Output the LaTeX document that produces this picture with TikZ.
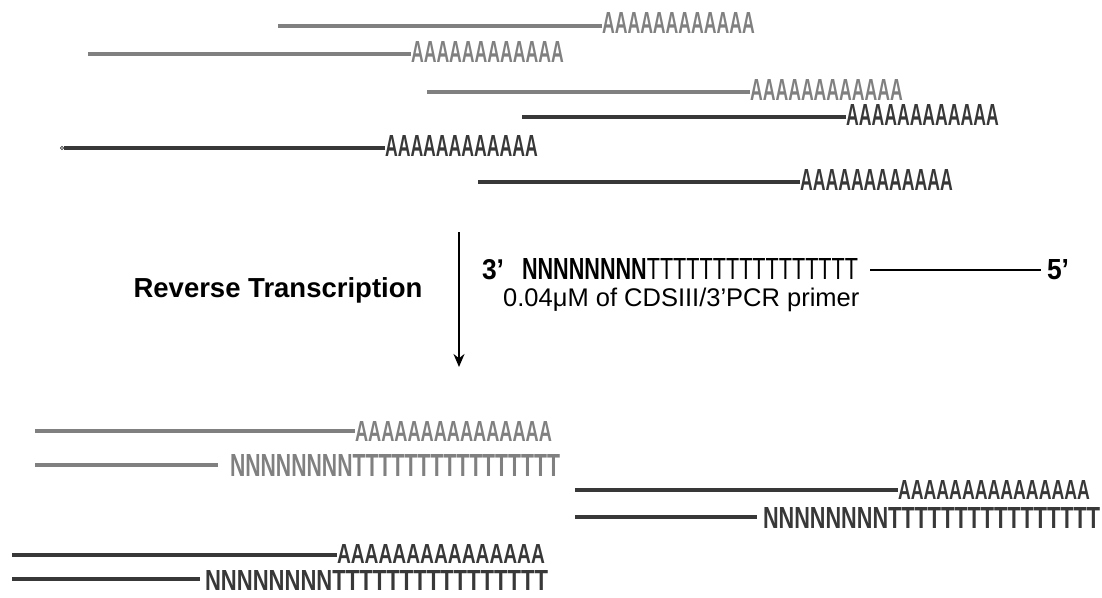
\documentclass[tikz,border=0pt]{standalone}
\usepackage{fontspec}
\setmainfont{Liberation Sans}
\usepackage{graphicx}
\usetikzlibrary{arrows.meta}
\definecolor{lgray}{HTML}{808080}
\definecolor{dgray}{HTML}{383838}
\newcommand\sqbox[3]{\resizebox{#1pt}{#2pt}{#3}}
\newcommand\Atop{\bfseries AAAAAAAAAAAA}
\newcommand\Abot{\bfseries AAAAAAAAAAAAAAA}
\newcommand\NT{\bfseries NNNNNNNNTTTTTTTTTTTTTTTT}
\begin{document}
\begin{tikzpicture}[x=1pt,y=-1pt,
  strand/.style={line width=3.2pt},
  seqtxt/.style={inner sep=0pt,outer sep=0pt,anchor=base west},
  lg/.style={color=lgray,text=lgray},
  dg/.style={color=dgray,text=dgray}]
\useasboundingbox (0,0) rectangle (1102,597);
% ---- top: mRNAs ----
\node[seqtxt,lg] (a1) at (602,34) {\sqbox{153}{21}{\Atop}};
\coordinate (s1) at (278,26);
\draw[strand,lg] (s1) -- (s1 -| a1.west);
\node[seqtxt,lg] (a2) at (411,62) {\sqbox{153}{21}{\Atop}};
\coordinate (s2) at (88,54);
\draw[strand,lg] (s2) -- (s2 -| a2.west);
\node[seqtxt,lg] (a3) at (750,100) {\sqbox{153}{21}{\Atop}};
\coordinate (s3) at (427,92);
\draw[strand,lg] (s3) -- (s3 -| a3.west);
\node[seqtxt,dg] (a4) at (846,125) {\sqbox{153}{21}{\Atop}};
\coordinate (s4) at (522,117);
\draw[strand,dg] (s4) -- (s4 -| a4.west);
\node[seqtxt,dg] (a5) at (385,156) {\sqbox{153}{21}{\Atop}};
\coordinate (s5) at (64,148);
\draw[strand,dg] (s5) -- (s5 -| a5.west);
\draw[dg,line width=0.7pt] (62,148) circle (1.7);
\node[seqtxt,dg] (a6) at (800,190) {\sqbox{153}{21}{\Atop}};
\coordinate (s6) at (478,182);
\draw[strand,dg] (s6) -- (s6 -| a6.west);
% ---- reverse transcription ----
\coordinate (arrtop) at (459,232);
\coordinate (arrbot) at (459,367);
\draw[line width=1.9pt,-{Stealth[length=13pt,width=11pt]}] (arrtop) -- (arrbot);
\node[font=\fontsize{27.5}{32}\selectfont\bfseries] (rt) at (278,290) {Reverse Transcription};
% primer
\node[seqtxt] (p3) at (482,279) {\sqbox{22}{20}{\bfseries 3’}};
\node[seqtxt] (pnt) at (522,279) {\sqbox{336}{21}{\bfseries NNNNNNNN\mdseries TTTTTTTTTTTTTTTT}};
\node[seqtxt] (p5) at (1047,279) {\sqbox{22}{20}{\bfseries 5’}};
\draw[line width=2.4pt] ([xshift=12pt]pnt.base east |- 0,270) coordinate (pl) -- ([xshift=-6pt]pl -| p5.west) ;
\node[inner sep=0pt,anchor=base west,font=\fontsize{25.5}{30}\selectfont] (conc) at (503,306) {0.04μM of CDSIII/3’PCR primer};
% ---- bottom: hybrids ----
% pair 1 (gray)
\node[seqtxt,lg] (b1) at (355,441) {\sqbox{197}{20}{\Abot}};
\coordinate (t1) at (35,431);
\draw[strand,lg] (t1) -- (t1 -| b1.west);
\node[seqtxt,lg] (c1) at (230,476) {\sqbox{330}{22}{\NT}};
\coordinate (u1) at (35,465);
\draw[strand,lg] (u1) -- ([xshift=-12pt]u1 -| c1.west);
% pair 2 (dark)
\node[seqtxt,dg] (b2) at (898,499) {\sqbox{192}{19}{\Abot}};
\coordinate (t2) at (575,490);
\draw[strand,dg] (t2) -- (t2 -| b2.west);
\node[seqtxt,dg] (c2) at (763,528) {\sqbox{337}{21}{\NT}};
\coordinate (u2) at (575,517);
\draw[strand,dg] (u2) -- ([xshift=-6pt]u2 -| c2.west);
% pair 3 (dark)
\node[seqtxt,dg] (b3) at (337,563) {\sqbox{208}{19}{\Abot}};
\coordinate (t3) at (12,555);
\draw[strand,dg] (t3) -- (t3 -| b3.west);
\node[seqtxt,dg] (c3) at (205,590) {\sqbox{343}{20}{\NT}};
\coordinate (u3) at (12,579);
\draw[strand,dg] (u3) -- ([xshift=-5pt]u3 -| c3.west);
\end{tikzpicture}
\end{document}
